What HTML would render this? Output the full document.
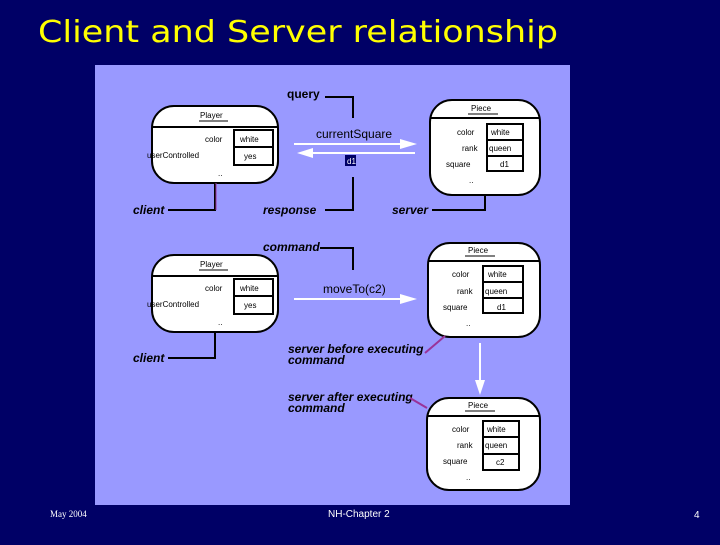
<!DOCTYPE html>
<html><head><style>
body{margin:0;width:720px;height:540px;background:#000066;overflow:hidden;font-family:"Liberation Sans",sans-serif}
</style></head><body>
<svg width="720" height="540" xmlns="http://www.w3.org/2000/svg" font-family="Liberation Sans, sans-serif">
<rect width="720" height="540" fill="#000066"/>
<text x="38" y="42" font-family="DejaVu Sans, sans-serif" font-size="30" fill="#ffff00" textLength="520" lengthAdjust="spacingAndGlyphs">Client and Server relationship</text>
<rect x="95" y="65" width="475" height="440" fill="#9999ff"/>

<defs>
<g id="player">
<rect x="0" y="0" width="126" height="77" rx="22" fill="#fff" stroke="#000" stroke-width="2"/>
<line x1="0" y1="21" x2="126" y2="21" stroke="#000" stroke-width="2"/>
<text x="48" y="12" font-size="8">Player</text>
<line x1="47" y1="15" x2="76" y2="15" stroke="#000"/>
<text x="53" y="36" font-size="8">color</text>
<text x="-5" y="52" font-size="8">userControlled</text>
<rect x="82" y="24" width="39" height="35" fill="#fff" stroke="#000" stroke-width="2"/>
<line x1="82" y1="41" x2="121" y2="41" stroke="#000" stroke-width="2"/>
<text x="88" y="36" font-size="8">white</text>
<text x="92" y="53" font-size="8">yes</text>
<text x="66" y="70" font-size="8">..</text>
</g>
</defs>

<!-- top -->
<text x="287" y="98" font-size="12" font-weight="bold">query</text>
<polyline points="325,97 353,97 353,118" fill="none" stroke="#000" stroke-width="2"/>
<use href="#player" x="152" y="106"/>
<g>
<rect x="430" y="100" width="110" height="95" rx="22" fill="#fff" stroke="#000" stroke-width="2"/>
<line x1="430" y1="118" x2="540" y2="118" stroke="#000" stroke-width="2"/>
<text x="471" y="111" font-size="8">Piece</text>
<line x1="468" y1="114" x2="498" y2="114" stroke="#000"/>
<text x="457" y="135" font-size="8">color</text><text x="462" y="151" font-size="8">rank</text><text x="446" y="167" font-size="8">square</text>
<rect x="487" y="124" width="36" height="47" fill="#fff" stroke="#000" stroke-width="2"/>
<line x1="487" y1="140" x2="523" y2="140" stroke="#000" stroke-width="2"/><line x1="487" y1="156" x2="523" y2="156" stroke="#000" stroke-width="2"/>
<text x="491" y="135" font-size="8">white</text><text x="489" y="151" font-size="8">queen</text><text x="500" y="167" font-size="8">d1</text>
<text x="469" y="183" font-size="8">..</text>
</g>
<text x="316" y="138" font-size="12">currentSquare</text>
<line x1="294" y1="144" x2="403" y2="144" stroke="#fff" stroke-width="2"/>
<polygon points="400,139 417,144 400,149" fill="#fff"/>
<line x1="310" y1="153" x2="415" y2="153" stroke="#fff" stroke-width="2"/>
<polygon points="313,148 297,153 313,158" fill="#fff"/>
<rect x="345" y="155" width="11" height="11" fill="#000066"/>
<text x="347" y="164" font-size="8" fill="#fff">d1</text>
<text x="263" y="214" font-size="12" font-style="italic" font-weight="bold">response</text>
<polyline points="325,210 353,210 353,177" fill="none" stroke="#000" stroke-width="2"/>
<text x="133" y="214" font-size="12" font-style="italic" font-weight="bold">client</text>
<polyline points="168,210 215,210 215,183" fill="none" stroke="#000" stroke-width="2"/>
<line x1="216" y1="183" x2="216" y2="210" stroke="#993399"/>
<text x="392" y="214" font-size="12" font-style="italic" font-weight="bold">server</text>
<polyline points="432,210 485,210 485,195" fill="none" stroke="#000" stroke-width="2"/>

<!-- middle -->
<text x="263" y="251" font-size="12" font-style="italic" font-weight="bold">command</text>
<polyline points="320,248 353,248 353,270" fill="none" stroke="#000" stroke-width="2"/>
<use href="#player" x="152" y="255"/>
<g>
<rect x="428" y="243" width="112" height="94" rx="22" fill="#fff" stroke="#000" stroke-width="2"/>
<line x1="428" y1="261" x2="540" y2="261" stroke="#000" stroke-width="2"/>
<text x="468" y="253" font-size="8">Piece</text>
<line x1="465" y1="256" x2="495" y2="256" stroke="#000"/>
<text x="452" y="277" font-size="8">color</text><text x="457" y="294" font-size="8">rank</text><text x="443" y="310" font-size="8">square</text>
<rect x="483" y="266" width="40" height="47" fill="#fff" stroke="#000" stroke-width="2"/>
<line x1="483" y1="282" x2="523" y2="282" stroke="#000" stroke-width="2"/><line x1="483" y1="298" x2="523" y2="298" stroke="#000" stroke-width="2"/>
<text x="488" y="277" font-size="8">white</text><text x="485" y="294" font-size="8">queen</text><text x="497" y="310" font-size="8">d1</text>
<text x="466" y="326" font-size="8">..</text>
</g>
<text x="323" y="293" font-size="12">moveTo(c2)</text>
<line x1="294" y1="299" x2="403" y2="299" stroke="#fff" stroke-width="2"/>
<polygon points="400,294 417,299 400,304" fill="#fff"/>
<text x="133" y="362" font-size="12" font-style="italic" font-weight="bold">client</text>
<polyline points="168,358 215,358 215,332" fill="none" stroke="#000" stroke-width="2"/>
<text x="288" y="353" font-size="12" font-style="italic" font-weight="bold">server before executing</text>
<text x="288" y="364" font-size="12" font-style="italic" font-weight="bold">command</text>
<polyline points="425,353 445,336" fill="none" stroke="#993399" stroke-width="2"/>
<line x1="480" y1="343" x2="480" y2="383" stroke="#fff" stroke-width="2"/>
<polygon points="475,380 480,395 485,380" fill="#fff"/>

<!-- bottom -->
<text x="288" y="401" font-size="12" font-style="italic" font-weight="bold">server after executing</text>
<text x="288" y="412" font-size="12" font-style="italic" font-weight="bold">command</text>
<polyline points="410,398 427,408" fill="none" stroke="#993399" stroke-width="2"/>
<g>
<rect x="427" y="398" width="113" height="92" rx="22" fill="#fff" stroke="#000" stroke-width="2"/>
<line x1="427" y1="416" x2="540" y2="416" stroke="#000" stroke-width="2"/>
<text x="468" y="408" font-size="8">Piece</text>
<line x1="465" y1="411" x2="495" y2="411" stroke="#000"/>
<text x="452" y="432" font-size="8">color</text><text x="457" y="448" font-size="8">rank</text><text x="443" y="464" font-size="8">square</text>
<rect x="483" y="421" width="36" height="49" fill="#fff" stroke="#000" stroke-width="2"/>
<line x1="483" y1="437" x2="519" y2="437" stroke="#000" stroke-width="2"/><line x1="483" y1="454" x2="519" y2="454" stroke="#000" stroke-width="2"/>
<text x="487" y="432" font-size="8">white</text><text x="485" y="448" font-size="8">queen</text><text x="496" y="465" font-size="8">c2</text>
<text x="466" y="480" font-size="8">..</text>
</g>

<text x="50" y="517" font-size="9" fill="#fff" font-family="Liberation Serif, serif">May 2004</text>
<text x="328" y="517" font-size="10" fill="#fff">NH-Chapter 2</text>
<text x="694" y="518" font-size="10" fill="#fff">4</text>
</svg>
</body></html>
